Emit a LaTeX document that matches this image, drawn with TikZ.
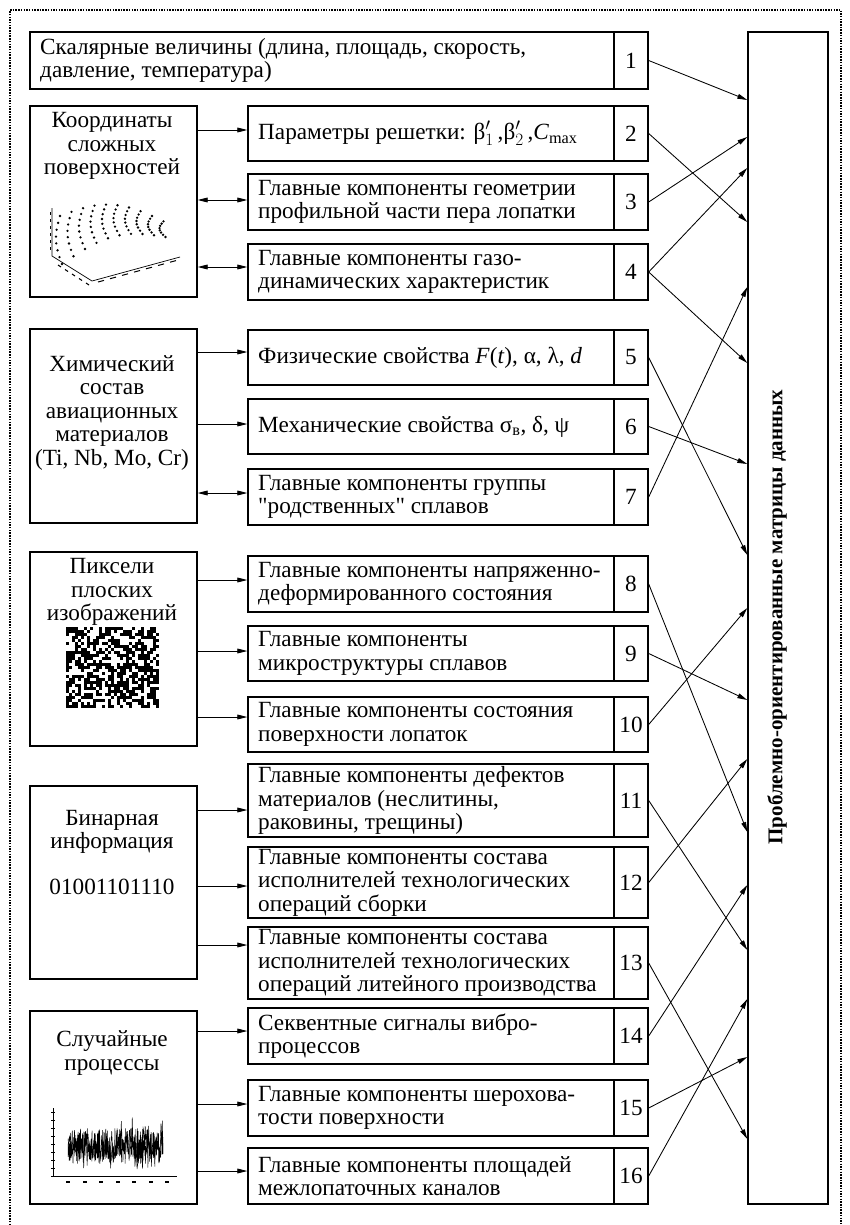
\documentclass[tikz,border=0pt]{standalone}
\usepackage{fontspec}
\setmainfont{Liberation Serif}
% same face without TeX ligatures, for straight quotation marks
\newfontfamily\qfont{Liberation Serif}
\usetikzlibrary{arrows.meta}

% one row of the middle column: frame with text, and the numbered cell
\newcommand\mrow[5]{%
  \node[box, minimum width=366pt, minimum height={(#3-#2)*1pt}] (r#1) at (431,{(#2+#3)/2}) {};
  \node[lbl] (t#1) at (258,{(#2+#3)/2}) {#5};
  \node[box, txt, minimum width=34pt, minimum height={(#3-#2)*1pt}] (n#1) at (631,{(#2+#3)/2}) {#4};
}
\newcommand\sq{{\qfont"}}

\begin{document}
\begin{tikzpicture}[x=1pt,y=-1pt,
  txt/.style={font=\fontsize{23.2}{23.5}\selectfont},
  box/.style={draw, line width=1.4pt, inner sep=0pt},
  lbl/.style={txt, align=left, inner sep=0pt, anchor=west},
  ctr/.style={txt, align=center, inner sep=0pt},
  arr/.style={line width=0.85pt, -{Triangle[length=10pt,width=4.8pt]}},
  darr/.style={line width=0.85pt, {Triangle[length=10pt,width=4.8pt]}-{Triangle[length=10pt,width=4.8pt]}},
  frame/.style={line width=1.5pt, dash pattern=on 1.5pt off 1.2pt},
  dot/.style={fill, inner sep=0pt, minimum size=2.6pt, circle}
]
\useasboundingbox (0,0) rectangle (850,1225);
\draw[frame] (10,1225) -- (10,10) -- (841,10) -- (841,1225);

% ---- first row ----
\node[box, minimum width=584pt, minimum height=57pt] (r1) at (322,60.5) {};
\node[lbl] (t1) at (40,60.5) {Скалярные величины (длина, площадь, скорость,\\давление, температура)};
\node[box, txt, minimum width=34pt, minimum height=57pt] (n1) at (631,60.5) {1};

% ---- middle column ----
\mrow{2}{106}{161}{2}{Параметры решетки: β$'_1$\,,β$'_2$\,,\textit{C}\textsubscript{max}}
\mrow{3}{174}{230}{3}{Главные компоненты геометрии\\профильной части пера лопатки}
\mrow{4}{244}{300}{4}{Главные компоненты газо-\\динамических характеристик}
\mrow{5}{330}{385}{5}{Физические свойства \textit{F}(\textit{t}), α, λ, \textit{d}}
\mrow{6}{399}{454}{6}{Механические свойства σ\textsubscript{в}, δ, ψ}
\mrow{7}{469}{525}{7}{Главные компоненты группы\\\sq родственных\sq{} сплавов}
\mrow{8}{556}{612}{8}{Главные компоненты напряженно-\\деформированного состояния}
\mrow{9}{626}{681}{9}{Главные компоненты\\микроструктуры сплавов}
\mrow{10}{697}{752}{10}{Главные компоненты состояния\\поверхности лопаток}
\mrow{11}{764}{837}{11}{Главные компоненты дефектов\\материалов (неслитины,\\раковины, трещины)}
\mrow{12}{847}{918}{12}{Главные компоненты состава\\исполнителей технологических\\операций сборки}
\mrow{13}{927}{999}{13}{Главные компоненты состава\\исполнителей технологических\\операций литейного производства}
\mrow{14}{1008}{1064}{14}{Секвентные сигналы вибро-\\процессов}
\mrow{15}{1080}{1136}{15}{Главные компоненты шерохова-\\тости поверхности}
\mrow{16}{1148}{1204}{16}{Главные компоненты площадей\\межлопаточных каналов}

% ---- left column ----
\node[box, minimum width=167pt, minimum height=191pt] (coord) at (113.5,201.5) {};
\node[ctr] (coordt) at (112,146) {Координаты\\сложных\\поверхностей};
\node[box, minimum width=167pt, minimum height=194pt] (chem) at (113.5,426) {};
\node[ctr] (chemt) at (112,413) {Химический\\состав\\авиационных\\материалов\\(Ti, Nb, Mo, Cr)};
\node[box, minimum width=167pt, minimum height=194pt] (pix) at (113.5,649) {};
\node[ctr] (pixt) at (112,592) {Пиксели\\плоских\\изображений};
\node[box, minimum width=167pt, minimum height=193pt] (bin) at (113.5,882.5) {};
\node[ctr] (bint) at (112,832) {Бинарная\\информация};
\node[ctr] (binc) at (112,887) {01001101110};
\node[box, minimum width=167pt, minimum height=193pt] (rnd) at (113.5,1107.5) {};
\node[ctr] (rndt) at (112,1053) {Случайные\\процессы};

% ---- right column ----
\node[box, minimum width=80pt, minimum height=1172pt] (big) at (788,618) {};
\node[rotate=90, inner sep=0pt, font=\bfseries\fontsize{21}{23}\selectfont] (bigt) at (777,617) {Проблемно-ориентированные матрицы данных};

% ---- point cloud of a surface ----
\draw[line width=0.7pt] (52,208) -- (52,256) -- (92,281) -- (180,257);
\foreach \k in {0,...,5} \draw[line width=1pt] (50,{212+7*\k}) -- (50,{215+7*\k});
\foreach \k in {0,...,4} \draw[line width=1pt] ({58+7*\k},{265+4.5*\k}) -- ({61+7*\k},{267+4.5*\k});
\foreach \k in {0,...,6} \draw[line width=1pt] ({98+12*\k},{282-3.3*\k}) -- ({104+12*\k},{280.4-3.3*\k});
\foreach \i in {0,...,9} {
  \pgfmathsetmacro\tx{60+11.5*\i}
  \pgfmathsetmacro\ty{216-14*sin(\i*20)+0.6*\i}
  \pgfmathsetmacro\len{48-3.6*\i}
  \foreach \s in {0,...,7} {
    \node[dot] at ({\tx-5*sin(\s*180/7)+2*\s/7},{\ty+\len*\s/7}) {};
  }
}

% ---- binary image ----
\pgfmathsetseed{1234}
\foreach \i in {0,...,30} {
  \foreach \j in {0,...,26} {
    \pgfmathsetmacro\r{rnd}
    \ifdim\r pt<0.58pt
      \fill ({66+3*\i},{627+3*\j}) rectangle ++(3,3);
    \fi
  }
}

% ---- random process record ----
\draw[line width=0.6pt] (53,1108) -- (53,1176) -- (177,1176);
\foreach \k in {0,...,8} \draw[line width=0.5pt] (51,{1112+8*\k}) -- (55,{1112+8*\k});
\foreach \k in {0,...,6} \fill ({66+16.5*\k},1181) rectangle ++(4,1.6);
\pgfmathsetseed{77}
\draw[line width=0.5pt] plot[domain=68:163, samples=380, variable=\t] (\t,{1146+18*rand});
\draw[line width=0.45pt] plot[domain=68:163, samples=140, variable=\t] (\t,{1146+30*rand*rand});

% ---- connectors: sources to components ----
\draw[arr]  (coord.east |- 0,130) -- (r2.west |- 0,130);
\draw[darr] (coord.east |- 0,200) -- (r3.west |- 0,200);
\draw[darr] (coord.east |- 0,267) -- (r4.west |- 0,267);
\draw[arr]  (chem.east |- 0,352) -- (r5.west |- 0,352);
\draw[arr]  (chem.east |- 0,424) -- (r6.west |- 0,424);
\draw[darr] (chem.east |- 0,493) -- (r7.west |- 0,493);
\draw[arr]  (pix.east |- 0,580) -- (r8.west |- 0,580);
\draw[arr]  (pix.east |- 0,651) -- (r9.west |- 0,651);
\draw[arr]  (pix.east |- 0,717) -- (r10.west |- 0,717);
\draw[arr]  (bin.east |- 0,810) -- (r11.west |- 0,810);
\draw[arr]  (bin.east |- 0,886) -- (r12.west |- 0,886);
\draw[arr]  (bin.east |- 0,945) -- (r13.west |- 0,945);
\draw[arr]  (rnd.east |- 0,1031) -- (r14.west |- 0,1031);
\draw[arr]  (rnd.east |- 0,1104) -- (r15.west |- 0,1104);
\draw[arr]  (rnd.east |- 0,1171) -- (r16.west |- 0,1171);

% ---- connectors: components to data matrices ----
\draw[arr] (n1.east) -- (big.west |- 0,100);
\draw[arr] (n2.east) -- (big.west |- 0,222);
\draw[arr] (n3.east) -- (big.west |- 0,137);
\draw[arr] (n4.east) -- (big.west |- 0,168);
\draw[arr] (n4.east) -- (big.west |- 0,363);
\draw[arr] (n5.east) -- (big.west |- 0,555);
\draw[arr] (n6.east) -- (big.west |- 0,464);
\draw[arr] (n7.east) -- (big.west |- 0,287);
\draw[arr] (n8.east) -- (big.west |- 0,832);
\draw[arr] (n9.east) -- (big.west |- 0,700);
\draw[arr] (n10.east) -- (big.west |- 0,608);
\draw[arr] (n11.east) -- (big.west |- 0,950);
\draw[arr] (n12.east) -- (big.west |- 0,759);
\draw[arr] (n13.east) -- (big.west |- 0,1139);
\draw[arr] (n14.east) -- (big.west |- 0,885);
\draw[arr] (n15.east) -- (big.west |- 0,1057);
\draw[arr] (n16.east) -- (big.west |- 0,999);
\end{tikzpicture}
\end{document}
